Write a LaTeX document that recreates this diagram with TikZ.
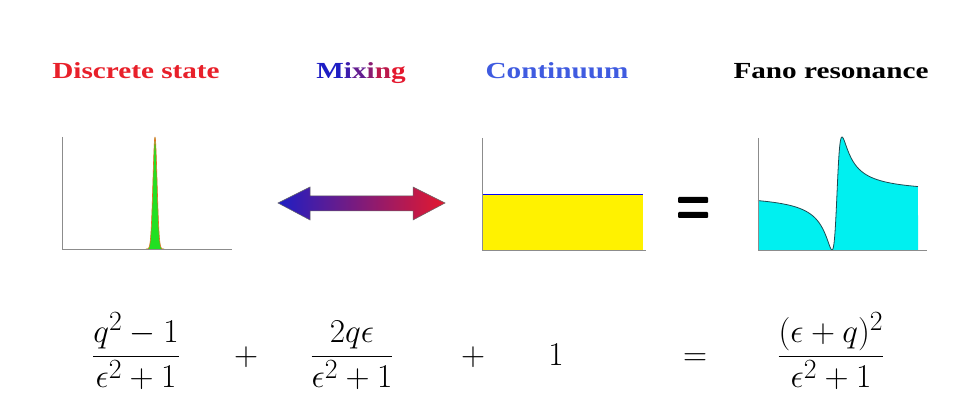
\documentclass[tikz,border=0pt]{standalone}
\usepackage{fontspec}
\setmainfont{Liberation Serif}
\usepackage{graphicx}
\definecolor{discred}{HTML}{E8202A}
\definecolor{mixblue}{HTML}{1E1EC4}
\definecolor{mixred}{HTML}{E4182E}
\definecolor{contblue}{HTML}{3F5BE0}
\definecolor{peakgreen}{HTML}{22E022}
\definecolor{peakedge}{HTML}{E07020}
\definecolor{fanocyan}{HTML}{00F0F0}
\definecolor{fanoline}{HTML}{1E4A52}
\definecolor{axisgray}{HTML}{8C8C8C}
\newcommand{\widetext}[1]{\scalebox{1.27}[1]{#1}}
\newcommand{\bigmath}[1]{\scalebox{1.34}{#1}}

\begin{document}
\begin{tikzpicture}[x=1pt, y=-1pt,
  title/.style={anchor=base, font=\fontsize{23}{28}\selectfont\bfseries},
  eqn/.style={anchor=base, font=\Huge},
  axisline/.style={draw=axisgray, line width=0.8pt},
]
\path[use as bounding box, fill=white] (0,0) rectangle (962,406);

\node[title, text=discred] (tdisc) at (136,79) {\widetext{Discrete state}};
\node[title] (tmix) at (361,79) {\widetext{\textcolor{mixblue}{M}\textcolor{mixblue!85!mixred}{i}\textcolor{mixblue!65!mixred}{x}\textcolor{mixblue!45!mixred}{i}\textcolor{mixblue!20!mixred}{n}\textcolor{mixred}{g}}};
\node[title, text=contblue] (tcont) at (557,79) {\widetext{Continuum}};
\node[title] (tfano) at (831,79) {\widetext{Fano resonance}};

\filldraw[fill=peakgreen, draw=peakedge, line width=0.6pt]
  plot[domain=146:164, samples=60] (\x, {249-112*exp(-(\x-155)*(\x-155)/8.5)});
\draw[axisline] (62,137) -- (62,249) -- (232,249);

\draw[left color=mixblue, right color=mixred, draw=black!60, line width=0.5pt]
  (278,203) -- (310,187) -- (310,196) -- (413,196) -- (413,187) -- (445,203)
  -- (413,220) -- (413,211) -- (310,211) -- (310,220) -- cycle;

\fill[yellow] (482,194) rectangle (643,250);
\draw[blue, line width=0.8pt] (482,194) -- (643,194);
\draw[axisline] (482,138) -- (482,250) -- (646,250);

\fill[black, rounded corners=1pt] (678,197) rectangle (708,203);
\fill[black, rounded corners=1pt] (678,212) rectangle (708,218);

\fill[fanocyan] (758,250)
  -- plot[domain=-15.8:16.2, samples=321] ({837+5*\x}, {250-56.5*(((\x)+1)*((\x)+1)/((\x)*(\x)+1))})
  -- (918,250) -- cycle;
\draw[fanoline, line width=0.8pt]
  plot[domain=-15.8:16.2, samples=321] ({837+5*\x}, {250-56.5*(((\x)+1)*((\x)+1)/((\x)*(\x)+1))});
\draw[axisline] (758,138) -- (758,250) -- (927,250);

\node[eqn] (lhsdisc) at (136,365) {\bigmath{$\displaystyle\frac{q^2-1}{\epsilon^2+1}$}};
\node[eqn] (plusa) at (246,365) {\bigmath{$+$}};
\node[eqn] (lhsmix) at (352,365) {\bigmath{$\displaystyle\frac{2q\epsilon}{\epsilon^2+1}$}};
\node[eqn] (plusb) at (473,365) {\bigmath{$+$}};
\node[eqn] (lhscont) at (556,365) {\bigmath{$1$}};
\node[eqn] (eqsign) at (695,365) {\bigmath{$=$}};
\node[eqn] (rhsfano) at (831,365) {\bigmath{$\displaystyle\frac{(\epsilon+q)^2}{\epsilon^2+1}$}};
\end{tikzpicture}
\end{document}
